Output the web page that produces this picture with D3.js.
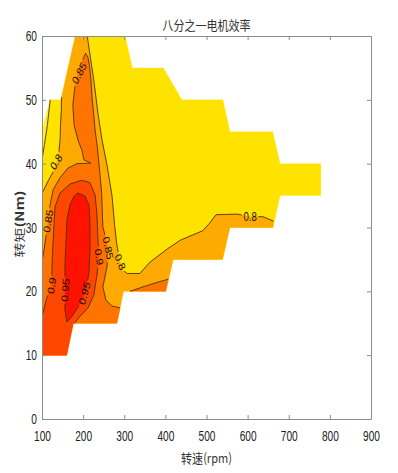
<!DOCTYPE html>
<html><head><meta charset="utf-8">
<script src="https://cdn.jsdelivr.net/npm/d3@7"></script>
<style>body{margin:0;background:#fff}svg{display:block}</style>
</head><body>
<svg id="c" width="398" height="473"></svg>
<script>
// ---- data (speed rpm, torque Nm) ----
const speedTicks = [100,200,300,400,500,600,700,800,900];
const torqueTicks = [0,10,20,30,40,50,60];
const title = "八分之一电机效率";
const xLabel = "转速(rpm)";
const yLabelMain = "转矩", yLabelUnit = "(Nm)";

// outer edge of the measured map (outside = no data)
const domainEdge = [[181,60],[302,60],[320,55],[395,55],[440,50],[540,50],[557,45],[661,45],[679,40],[778,40],[778,35],[679,35],[662,30],[557,30],[539,25],[419,25],[401,20],[298,20],[282,15],[176,15],[160,10],[100,10],[100,45],[120,50],[146,50]];

// contour lines
const c75 = [[120,50],[113,46],[106,43],[100,40.6]];
const c80Left = [[147.4,50.4],[147,48.4],[145,46.1],[144,43.7],[141,41.8],[136.5,40.3],[127,38.7],[115,37.3],[105,36.0],[100,35.4]];
const c80Right = [[663,31.0],[637,31.7],[606,31.7],[574,32.1],[523,32.0],[508,30.7],[491,29.5],[436,28.0],[404,26.6],[363,24.6],[338,22.8],[307,22.8],[297,23.3],[290,24.6],[282,27.3],[277,30.1],[270,35.1],[258,39.8],[246,43.7],[236,47.9],[226,53.1],[218,56.5],[210,60]];
const c85 = [[100,24.6],[105,26.5],[110,28.8],[115,31.2],[119.5,33.5],[127,35.9],[144,37.8],[163,39.3],[185,40.0],[219,40.1],[202,40.6],[197,42.1],[187.5,43.7],[178,46.1],[175,49.2],[180,52.0],[187.5,54.4],[197,56.0],[206,57.3],[212,56.6],[216,55.0],[219,53.1],[221.6,50.4],[226,47.6],[229,45.3],[234,42.9],[237,41.0],[241,38.2],[245,35.4],[248,30.1],[261,26.8],[258,23.8],[248,20.7],[255.6,18.6],[270,17.7],[290,17.4]];
const c85Low = [[314,20],[350,20.8],[380,21.4],[407,21.9]];
const c90 = [[100,16.0],[111,18.8],[123,20.9],[125.5,26.0],[129.2,30.4],[131.6,33.2],[143.8,35.4],[168,36.8],[197,37.4],[216.7,37.0],[229,35.1],[233.7,32.0],[236,28.0],[239,25.4],[233.7,22.6],[226,19.4],[212,17.4],[192.4,16.1],[179,15]];
const c95 = [[187.5,35.4],[204.6,34.9],[214.3,33.5],[216.7,30.4],[216.7,26.5],[214.3,22.9],[207,20.5],[199.7,19.1],[187.5,17.5],[173,16.1],[160.8,15.2],[155.9,17.1],[155.9,20.2],[155.9,24.1],[158.4,28.0],[160.8,31.2],[168,33.5],[177.8,34.9]];

// edge pieces that close the filled bands
const edge75 = [[100,45]];
const edge80Top = [[181,60]];
const edge80Bottom = [[100,10],[160,10],[176,15],[282,15],[298,20],[401,20],[419,25],[539,25],[557,30],[662,30]];
const edge85 = [[282,15],[176,15],[160,10],[100,10]];
const edge85Low = [[401,20]];
const edge90 = [[176,15],[160,10],[100,10]];

const levelColors = {below:"#FFE300", low:"#FFF12E", l80:"#FFAA00", l85:"#FF7400", l90:"#FF4700", l95:"#FF1200"};

const labels = [
  {t:"0.85", s:190, q:54.2, a:-57},
  {t:"0.8",  s:134, q:40.3, a:-55},
  {t:"0.85", s:114.6, q:31.0, a:-80},
  {t:"0.9",  s:123, q:20.9, a:-80},
  {t:"0.95", s:156, q:20.2, a:-85},
  {t:"0.95", s:203, q:19.7, a:-72},
  {t:"0.9",  s:239, q:25.4, a:80},
  {t:"0.85", s:261, q:26.8, a:76},
  {t:"0.8",  s:290.5, q:24.6, a:65},
  {t:"0.8",  s:606, q:31.7, a:0}
];

// ---- drawing ----
const L=42, R=371, T=36, B=419;
const svg = d3.select("#c");
const x = d3.scaleLinear().domain([100,900]).range([L,R]);
const y = d3.scaleLinear().domain([0,60]).range([B,T]);
const line = d3.line().x(d=>x(d[0])).y(d=>y(d[1]));
const poly = pts => line(pts) + "Z";

const defs = svg.append("defs");
defs.append("clipPath").attr("id","clip").append("rect")
  .attr("x",L).attr("y",T).attr("width",R-L).attr("height",B-T);

const g = svg.append("g").attr("clip-path","url(#clip)");
const fills = [
  [domainEdge, levelColors.below],
  [[...c75, ...edge75], levelColors.low],
  [[...edge80Top, ...c80Left, ...edge80Bottom, ...c80Right], levelColors.l80],
  [[...c85, ...edge85], levelColors.l85],
  [[...c85Low, ...edge85Low], levelColors.l85],
  [[...c90, ...edge90], levelColors.l90],
  [c95, levelColors.l95]
];
g.selectAll("path.band").data(fills).join("path").attr("class","band")
  .attr("d",d=>poly(d[0])).attr("fill",d=>d[1]).attr("stroke",d=>d[1]).attr("stroke-width",0.3);

// labels (temporary to measure)
const SX = 0.8, LFS = 12;
const labG = svg.append("g");
const lt = labG.selectAll("text").data(labels).join("text")
  .attr("transform",d=>`translate(${x(d.s)},${y(d.q)}) scale(${SX},1) rotate(${d.a})`)
  .attr("text-anchor","middle").attr("dominant-baseline","central")
  .style("font-family","'Liberation Sans',Arial,sans-serif").style("font-size",LFS+"px")
  .attr("fill","#111").text(d=>d.t);
lt.each(function(d){ d.w = this.getComputedTextLength(); });

// mask to break lines under labels
const mask = defs.append("mask").attr("id","lm").attr("maskUnits","userSpaceOnUse")
  .attr("x",0).attr("y",0).attr("width",398).attr("height",473);
mask.append("rect").attr("x",0).attr("y",0).attr("width",398).attr("height",473).attr("fill","#fff");
mask.selectAll("rect.h").data(labels).join("rect").attr("class","h")
  .attr("transform",d=>`translate(${x(d.s)},${y(d.q)}) scale(${SX},1) rotate(${d.a})`)
  .attr("x",d=>-d.w/2-2).attr("y",-5).attr("width",d=>d.w+4).attr("height",10).attr("fill","#000");

const lg = svg.insert("g", ()=>labG.node()).attr("clip-path","url(#clip)")
  .append("g").attr("mask","url(#lm)");
const lines = [c75, c80Left, c80Right, c85, c85Low, c90, [...c95, c95[0]]];
lg.selectAll("path").data(lines).join("path").attr("d",d=>line(d))
  .attr("fill","none").attr("stroke","#4a3600").attr("stroke-width",0.9).attr("stroke-linejoin","round");

// axes
const axG = svg.append("g");
const TS = 14.5, TSX = 0.7;
const styleAxis = sel => {
  sel.select(".domain").attr("stroke","#8c8c8c");
  sel.selectAll(".tick line").attr("stroke","#8c8c8c");
  sel.selectAll("text").style("font-family","'Liberation Sans',Arial,sans-serif").style("font-size",TS+"px").attr("fill","#222");
};
const xb = axG.append("g").attr("transform",`translate(0,${B})`)
  .call(d3.axisBottom(x).tickValues(speedTicks).tickSizeInner(-4).tickSizeOuter(0).tickPadding(12).tickFormat(d3.format("d")));
styleAxis(xb); xb.selectAll("text").attr("transform",`scale(${TSX},1)`);
const xt = axG.append("g").attr("transform",`translate(0,${T})`)
  .call(d3.axisTop(x).tickValues(speedTicks).tickSizeInner(-4).tickSizeOuter(0).tickFormat(""));
styleAxis(xt);
const yl = axG.append("g").attr("transform",`translate(${L},0)`)
  .call(d3.axisLeft(y).tickValues(torqueTicks).tickSizeInner(-4).tickSizeOuter(0).tickPadding(5).tickFormat(d3.format("d")));
styleAxis(yl); yl.selectAll("text").attr("transform",`scale(${TSX},1)`).attr("x",-5/TSX);
const yr = axG.append("g").attr("transform",`translate(${R},0)`)
  .call(d3.axisRight(y).tickValues(torqueTicks).tickSizeInner(-4).tickSizeOuter(0).tickFormat(""));
styleAxis(yr);

// texts
const cjk = "'Noto Sans CJK SC','Liberation Sans',sans-serif";
svg.append("text").attr("transform",`translate(${(L+R)/2},24) scale(0.85,1)`)
  .attr("text-anchor","middle").attr("dominant-baseline","central")
  .style("font-family",cjk).style("font-size","13px").attr("fill","#333").text(title);
svg.append("text").attr("transform",`translate(${(L+R)/2},457) scale(0.85,1)`)
  .attr("text-anchor","middle").attr("dominant-baseline","central")
  .style("font-family",cjk).style("font-size","13px").attr("fill","#333").text(xLabel);
const ylab = svg.append("text").attr("transform",`translate(19,224) scale(0.75,1) rotate(-90)`)
  .attr("text-anchor","middle").attr("dominant-baseline","central")
  .style("font-family",cjk).style("font-size","15px").attr("fill","#333");
ylab.append("tspan").text(yLabelMain);
ylab.append("tspan").style("font-weight","bold").text(yLabelUnit);
</script>
</body></html>
